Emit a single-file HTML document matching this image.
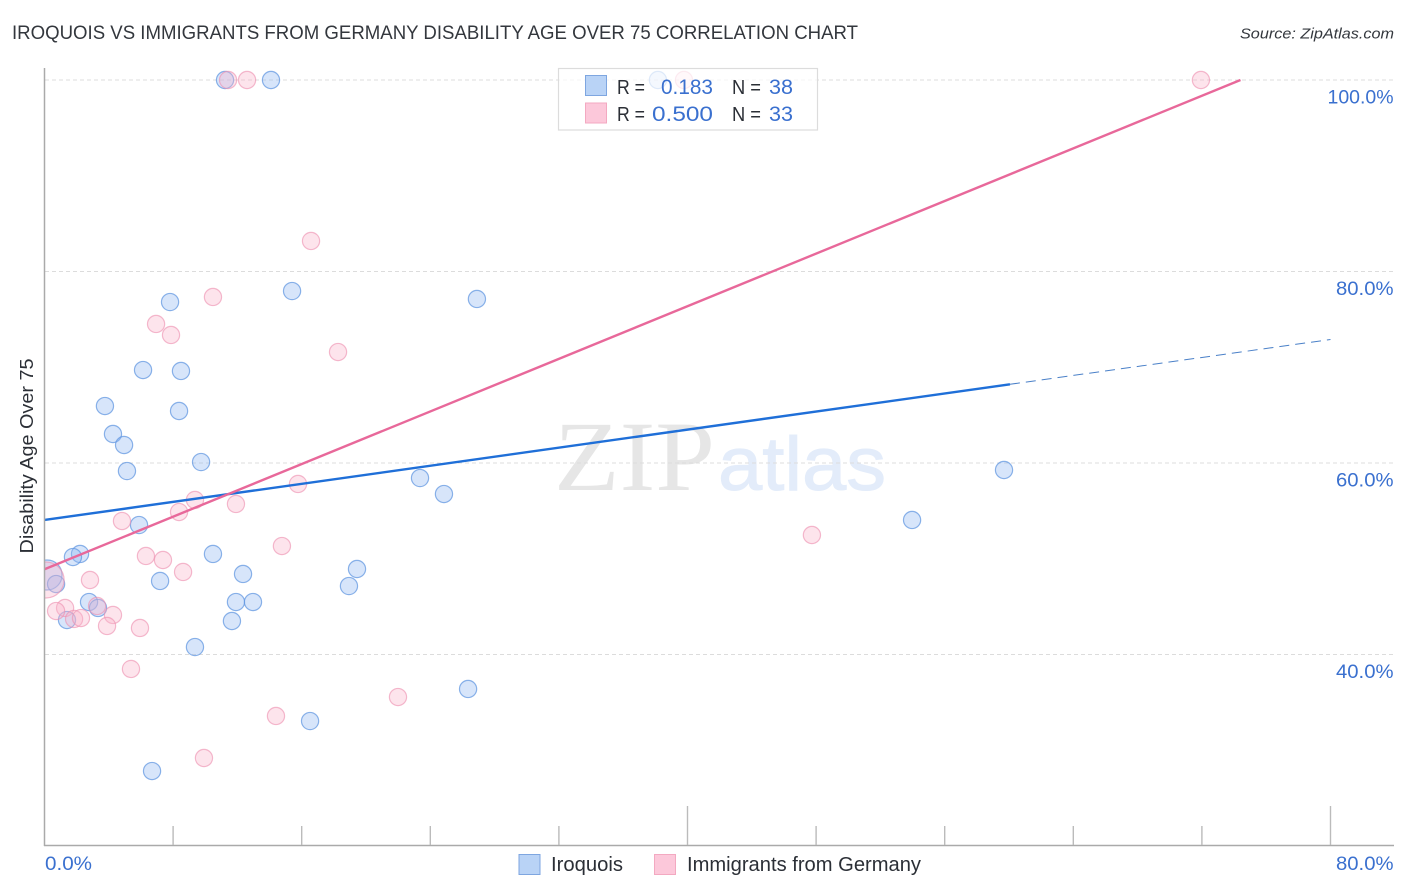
<!DOCTYPE html>
<html lang="en">
<head>
<meta charset="utf-8">
<title>Iroquois vs Immigrants from Germany Disability Age Over 75 Correlation Chart</title>
<style>
html,body{margin:0;padding:0;background:#fff;}
svg{display:block;}
text{font-family:"Liberation Sans",sans-serif;}
</style>
</head>
<body>
<svg id="chart" xmlns="http://www.w3.org/2000/svg" width="1406" height="892" viewBox="0 0 1406 892">
  <text x="12" y="39" font-size="19" fill="#33373d" textLength="846" lengthAdjust="spacingAndGlyphs">IROQUOIS VS IMMIGRANTS FROM GERMANY DISABILITY AGE OVER 75 CORRELATION CHART</text>
  <text x="1394" y="38.5" font-size="15" font-style="italic" fill="#33373d" text-anchor="end" textLength="154" lengthAdjust="spacingAndGlyphs">Source: ZipAtlas.com</text>

  <g>
    <text x="554" y="490" font-size="100" style="font-family:'Liberation Serif',serif" fill="#e6e6e6" textLength="161" lengthAdjust="spacingAndGlyphs">ZIP</text>
    <text x="718" y="490" font-size="76" fill="#e3ecfa" stroke="#e3ecfa" stroke-width="1" textLength="168" lengthAdjust="spacingAndGlyphs">atlas</text>
  </g>

  <g id="grid"></g>
  <g id="points"></g>
  <g id="trends"></g>
  <g id="axes"></g>

  <text transform="translate(33 456) rotate(-90)" font-size="18" fill="#2b2f36" text-anchor="middle" textLength="195" lengthAdjust="spacingAndGlyphs">Disability Age Over 75</text>

  <g>
    <rect x="558.5" y="68.5" width="259" height="61.5" fill="#fff" fill-opacity="0.72" stroke="#dcdcdc" stroke-width="1.2"/>
    <rect x="585.5" y="75.5" width="21" height="20" fill="#b9d3f6" stroke="#7ea6e0"/>
    <rect x="585.5" y="103" width="21" height="20" fill="#fcc8da" stroke="#f3a9c1"/>
    <text x="617" y="94" font-size="20" fill="#2b2f36" textLength="28" lengthAdjust="spacingAndGlyphs">R =</text>
    <text x="713" y="94" font-size="21" fill="#3a70cf" text-anchor="end" textLength="52" lengthAdjust="spacingAndGlyphs">0.183</text>
    <text x="732" y="94" font-size="20" fill="#2b2f36" textLength="29" lengthAdjust="spacingAndGlyphs">N =</text>
    <text x="793" y="94" font-size="21" fill="#3a70cf" text-anchor="end" textLength="24" lengthAdjust="spacingAndGlyphs">38</text>
    <text x="617" y="121" font-size="20" fill="#2b2f36" textLength="28" lengthAdjust="spacingAndGlyphs">R =</text>
    <text x="713" y="121" font-size="21" fill="#3a70cf" text-anchor="end" textLength="61" lengthAdjust="spacingAndGlyphs">0.500</text>
    <text x="732" y="121" font-size="20" fill="#2b2f36" textLength="29" lengthAdjust="spacingAndGlyphs">N =</text>
    <text x="793" y="121" font-size="21" fill="#3a70cf" text-anchor="end" textLength="24" lengthAdjust="spacingAndGlyphs">33</text>
  </g>

  <g>
    <rect x="519" y="854.5" width="21" height="20" fill="#b9d3f6" stroke="#7ea6e0"/>
    <text x="551" y="871" font-size="20" fill="#2b2f36" textLength="72" lengthAdjust="spacingAndGlyphs">Iroquois</text>
    <rect x="654.5" y="854.5" width="21" height="20" fill="#fcc8da" stroke="#f3a9c1"/>
    <text x="687" y="871" font-size="20" fill="#2b2f36" textLength="234" lengthAdjust="spacingAndGlyphs">Immigrants from Germany</text>
  </g>
</svg>

<script>
const xTickValues = [0, 8, 16, 24, 32, 40, 48, 56, 64, 72, 80];
const yGridValues = [100, 80, 60, 40];
const yTickLabels = ["100.0%", "80.0%", "60.0%", "40.0%"];
const xEndLabels = ["0.0%", "80.0%"];

const iroquoisX = [11.23,14.09,38.16,15.40,26.90,7.81,6.13,8.49,3.76,8.37,4.26,4.95,9.74,5.13,23.36,24.85,59.69,53.97,5.88,2.21,1.77,10.48,19.44,12.35,7.19,18.94,0.16,0.72,2.77,3.33,11.91,12.97,1.40,11.66,9.36,26.35,16.52,6.69];
const iroquoisY = [100,100,100,77.96,77.13,76.81,69.71,69.61,65.95,65.43,63.03,61.88,60.10,59.16,58.43,56.76,59.27,54.05,53.52,50.50,50.18,50.50,48.93,48.41,47.68,47.15,48.30,47.36,45.48,44.86,45.48,45.48,43.60,43.50,40.78,36.40,33.05,27.83];
const germanyX = [11.42,12.60,39.78,71.94,16.58,10.48,6.94,7.87,18.26,15.77,9.36,11.91,8.37,4.82,47.74,14.77,6.31,7.37,8.62,2.83,0.10,1.28,0.72,3.27,4.26,1.84,2.27,3.89,5.94,5.38,21.99,14.40,9.92];
const germanyY = [100,100,100,100,83.19,77.34,74.52,73.37,71.59,57.81,56.14,55.72,54.88,53.94,52.48,51.33,50.29,49.87,48.62,47.78,47.78,44.86,44.54,45.07,44.13,43.71,43.81,42.98,42.77,38.49,35.56,33.58,29.19];
const iroquoisLargeIndex = 26;
const germanyLargeIndex = 20;

const iroquoisTrendX = [0, 60.06, 80];
const iroquoisTrendY = [54.05, 68.22, 72.9];
const germanyTrendX = [0, 74.4];
const germanyTrendY = [48.9, 100];

const SVG_NS = "http://www.w3.org/2000/svg";
const xScale = v => 44.5 + v * (1330.5 - 44.5) / 80;
const yScale = v => 80 + (100 - v) * (654.5 - 80) / 60;

function svgEl(tag, attrs, parent) {
  const el = document.createElementNS(SVG_NS, tag);
  Object.keys(attrs).forEach(k => el.setAttribute(k, attrs[k]));
  parent.appendChild(el);
  return el;
}

const defs = svgEl("defs", {}, document.getElementById("chart"));
const clip = svgEl("clipPath", {id: "plot-clip"}, defs);
svgEl("rect", {x: 45, y: 60, width: 1349, height: 785}, clip);

const grid = document.getElementById("grid");
yGridValues.forEach(v => {
  const line = svgEl("line", {x1: 45, x2: 1394, y1: yScale(v), y2: yScale(v), stroke: "#dcdcdc", "stroke-width": 1, "stroke-dasharray": "4 3"}, grid);
  
  
});

const points = document.getElementById("points");
points.setAttribute("clip-path", "url(#plot-clip)");
iroquoisX.forEach((v, i) => {
  const c = svgEl("circle", {cx: xScale(v), cy: yScale(iroquoisY[i]), r: i === iroquoisLargeIndex ? 15 : 8.6, fill: "#8fb8f0", "fill-opacity": 0.36, stroke: "#5f96e0", "stroke-opacity": 0.72, "stroke-width": 1.2}, points);
  
  
});
germanyX.forEach((v, i) => {
  const c = svgEl("circle", {cx: xScale(v), cy: yScale(germanyY[i]), r: i === germanyLargeIndex ? 18 : 8.6, fill: "#f9b4cb", "fill-opacity": 0.36, stroke: "#ee90b0", "stroke-opacity": 0.62, "stroke-width": 1.2}, points);
  
  
});

const trends = document.getElementById("trends");
const blueSolid = svgEl("line", {x1: xScale(iroquoisTrendX[0]), y1: yScale(iroquoisTrendY[0]), x2: xScale(iroquoisTrendX[1]), y2: yScale(iroquoisTrendY[1]), stroke: "#1f6fd8", "stroke-width": 2.4}, trends);


const blueDash = svgEl("line", {x1: xScale(iroquoisTrendX[1]), y1: yScale(iroquoisTrendY[1]), x2: xScale(iroquoisTrendX[2]), y2: yScale(iroquoisTrendY[2]), stroke: "#4a80c8", "stroke-width": 1, "stroke-dasharray": "10 6"}, trends);


const pinkSolid = svgEl("line", {x1: xScale(germanyTrendX[0]), y1: yScale(germanyTrendY[0]), x2: xScale(germanyTrendX[1]), y2: yScale(germanyTrendY[1]), stroke: "#e8689a", "stroke-width": 2.4}, trends);



const axes = document.getElementById("axes");
const yAxis = svgEl("line", {x1: 44.5, x2: 44.5, y1: 68, y2: 846, stroke: "#aaaaaa", "stroke-width": 1.5}, axes);


const xAxis = svgEl("line", {x1: 44, x2: 1394, y1: 845.5, y2: 845.5, stroke: "#aaaaaa", "stroke-width": 1.5}, axes);



xTickValues.forEach(v => {
  if (v === 0) return;
  const major = v === 40 || v === 80;
  const t = svgEl("line", {x1: xScale(v), x2: xScale(v), y1: major ? 806 : 826, y2: 845, stroke: "#bbbbbb", "stroke-width": 1.4}, axes);
  
  
});

yTickLabels.forEach((label, i) => {
  const t = svgEl("text", {x: 1393.5, y: yScale(yGridValues[i]) + 23.5, "font-size": 19.5, fill: "#3a70cf", "text-anchor": "end", textLength: label.length === 6 ? 66 : 57.5, lengthAdjust: "spacingAndGlyphs"}, axes);
  t.textContent = label;
  
  
});

const x0Label = svgEl("text", {x: 45, y: 870, "font-size": 19.5, fill: "#3a70cf", textLength: 47, lengthAdjust: "spacingAndGlyphs"}, axes);
x0Label.textContent = xEndLabels[0];


const x80Label = svgEl("text", {x: 1393.5, y: 870, "font-size": 19.5, fill: "#3a70cf", "text-anchor": "end", textLength: 57.5, lengthAdjust: "spacingAndGlyphs"}, axes);
x80Label.textContent = xEndLabels[1];


</script>
</body>
</html>
